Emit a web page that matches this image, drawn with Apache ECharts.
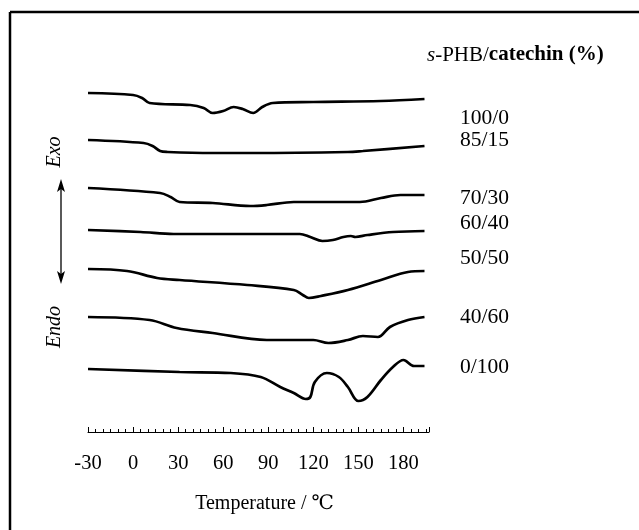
<!DOCTYPE html>
<html>
<head>
<meta charset="utf-8">
<script src="https://cdn.jsdelivr.net/npm/echarts@6/dist/echarts.min.js"></script>
<style>
html,body{margin:0;padding:0;background:#fff;}
#chart{width:639px;height:530px;}
</style>
</head>
<body>
<div id="chart"></div>
<script>
// Sample names (s-PHB/catechin, %)
const sampleNames = ['100/0', '85/15', '70/30', '60/40', '50/50', '40/60', '0/100'];
const legendTitle = 'catechin (%)';
const xTickLabels = [-30, 0, 30, 60, 90, 120, 150, 180];

// Temperature (°C) and heat flow (a.u., curves offset vertically) per sample
const t100_0 = [-30, 0, 6, 11, 38, 47, 53, 60, 67, 73, 80, 86, 93, 120, 165, 194];
const h100_0 = [30.7, 30.5, 30.2, 29.7, 29.5, 29.2, 28.7, 28.9, 29.3, 29.1, 28.7, 29.3, 29.7, 29.8, 29.9, 30.1];

const t85_15 = [-30, 7, 13, 18, 23, 53, 80, 143, 153, 194];
const h85_15 = [26.0, 25.7, 25.4, 24.9, 24.8, 24.7, 24.7, 24.8, 24.9, 25.4];

const t70_30 = [-30, 18, 25, 31, 53, 78, 89, 107, 125, 151, 165, 178, 194];
const h70_30 = [21.2, 20.7, 20.3, 19.8, 19.7, 19.4, 19.5, 19.8, 19.8, 19.8, 20.2, 20.5, 20.5];

const t60_40 = [-30, 5, 27, 111, 118, 126, 133, 140, 145, 148, 156, 173, 194];
const h60_40 = [17.0, 16.8, 16.6, 16.6, 16.3, 15.9, 16.0, 16.3, 16.4, 16.3, 16.5, 16.8, 16.9];

const t50_50 = [-30, -4, 16, 31, 76, 107, 113, 117, 125, 143, 165, 183, 194];
const h50_50 = [13.1, 12.9, 12.2, 12.0, 11.5, 11.0, 10.5, 10.2, 10.4, 11.0, 12.0, 12.8, 12.9];

const t40_60 = [-30, 11, 29, 53, 89, 120, 130, 143, 153, 163, 171, 183, 194];
const h40_60 = [8.3, 8.0, 7.2, 6.7, 6.0, 6.0, 5.7, 6.0, 6.4, 6.3, 7.3, 8.0, 8.3];

const t0_100 = [-30, 31, 65, 85, 98, 107, 115, 118, 121, 129, 137, 143, 150, 156, 165, 173, 180, 187, 194];
const h0_100 = [3.1, 2.8, 2.7, 2.3, 1.3, 0.7, 0.1, 0.3, 1.8, 2.7, 2.3, 1.3, -0.1, 0.3, 2.0, 3.3, 4.0, 3.4, 3.4];

const temps = [t100_0, t85_15, t70_30, t60_40, t50_50, t40_60, t0_100];
const flows = [h100_0, h85_15, h70_30, h60_40, h50_50, h40_60, h0_100];

const serif = '"Liberation Serif", "DejaVu Serif", serif';
const chart = echarts.init(document.getElementById('chart'), null, {renderer: 'canvas'});

const series = sampleNames.map((name, i) => ({
  name: name,
  type: 'line',
  data: temps[i].map((t, k) => [t, flows[i][k]]),
  smooth: 0.35,
  symbol: 'none',
  lineStyle: {color: '#000', width: 2.7},
  silent: true,
  animation: false
}));

// label y positions (right side)
const labelY = [118, 140, 198, 223, 258, 317, 367];

const graphics = [
  {type: 'line', shape: {x1: 10, y1: 12, x2: 639, y2: 12}, style: {stroke: '#000', lineWidth: 2.5}},
  {type: 'line', shape: {x1: 10, y1: 12, x2: 10, y2: 530}, style: {stroke: '#000', lineWidth: 2.5}},
  {type: 'text', x: 427, y: 55, style: {
    text: '{i|s}{r|-PHB/}{b|' + legendTitle + '}',
    verticalAlign: 'middle', align: 'left',
    rich: {
      i: {fontFamily: serif, fontStyle: 'italic', fontSize: 21, fill: '#000'},
      r: {fontFamily: serif, fontSize: 21, fill: '#000'},
      b: {fontFamily: serif, fontSize: 21, fill: '#000', fontWeight: 'bold'}
    }
  }},
  {type: 'text', x: 55, y: 152, rotation: Math.PI / 2, style: {
    text: 'Exo', font: 'italic 20px ' + serif, fill: '#000', align: 'center', verticalAlign: 'middle'}},
  {type: 'text', x: 55, y: 327, rotation: Math.PI / 2, style: {
    text: 'Endo', font: 'italic 20px ' + serif, fill: '#000', align: 'center', verticalAlign: 'middle'}},
  {type: 'line', shape: {x1: 61, y1: 186, x2: 61, y2: 277}, style: {stroke: '#000', lineWidth: 1.3}},
  {type: 'polygon', shape: {points: [[61, 179], [57, 192], [61, 189], [65, 192]]}, style: {fill: '#000'}},
  {type: 'polygon', shape: {points: [[61, 284], [57, 271], [61, 274], [65, 271]]}, style: {fill: '#000'}}
];
sampleNames.forEach((n, i) => {
  graphics.push({type: 'text', x: 460, y: labelY[i], style: {
    text: n, font: '21.5px ' + serif, fill: '#000', align: 'left', verticalAlign: 'middle'}});
});

chart.setOption({
  animation: false,
  backgroundColor: '#fff',
  grid: {left: 88, right: 639 - 429, top: 32, bottom: 98, containLabel: false},
  xAxis: {
    type: 'value', min: -30, max: 197, interval: 30,
    name: 'Temperature / ℃', nameLocation: 'middle', nameGap: 62,
    nameTextStyle: {fontFamily: serif, fontSize: 20, color: '#000', padding: [0, 0, 0, 12]},
    axisLine: {show: true, onZero: false, lineStyle: {color: '#000', width: 1}},
    axisTick: {show: true, inside: true, length: 5, lineStyle: {color: '#000', width: 1}},
    minorTick: {show: true, splitNumber: 6, length: 3, lineStyle: {color: '#000', width: 1}},
    splitLine: {show: false},
    axisLabel: {fontFamily: serif, fontSize: 20.5, color: '#000', margin: 21, showMaxLabel: false,
      formatter: v => (xTickLabels.indexOf(v) >= 0 ? String(v) : '')}
  },
  yAxis: {
    type: 'value', min: -3.2, max: 36.8, show: false, splitLine: {show: false}
  },
  series: series,
  graphic: graphics
});
</script>
</body>
</html>
